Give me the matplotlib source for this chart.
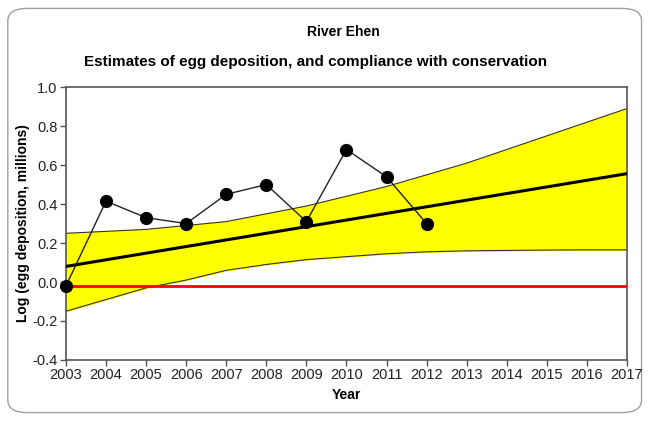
import matplotlib
matplotlib.use('Agg')
import matplotlib.pyplot as plt
from matplotlib.patches import FancyBboxPatch

years = [2003, 2004, 2005, 2006, 2007, 2008, 2009, 2010, 2011, 2012]
egg_dep = [-0.02, 0.415, 0.33, 0.30, 0.45, 0.50, 0.31, 0.68, 0.54, 0.30]

proj_years = list(range(2003, 2018))
trend = [0.08, 0.114, 0.148, 0.182, 0.216, 0.25, 0.284, 0.318, 0.352, 0.386,
         0.42, 0.454, 0.488, 0.522, 0.556]
upper = [0.25, 0.26, 0.27, 0.29, 0.31, 0.35, 0.39, 0.44, 0.49, 0.55,
         0.61, 0.68, 0.75, 0.82, 0.89]
lower = [-0.15, -0.09, -0.03, 0.01, 0.06, 0.09, 0.115, 0.13, 0.145, 0.155,
         0.16, 0.162, 0.164, 0.165, 0.165]
conservation_limit = -0.02

plt.rcParams['font.family'] = ['Liberation Sans', 'DejaVu Sans']

fig = plt.figure(figsize=(6.5, 4.21), dpi=100)
# rounded frame round the whole chart
frame = FancyBboxPatch((0.012, 0.02), 0.975, 0.96, boxstyle='round,pad=0,rounding_size=0.03',
                       transform=fig.transFigure, facecolor='white', edgecolor='#a0a0a0',
                       linewidth=1.0, zorder=-1)
fig.patches.append(frame)

ax = fig.add_axes([0.1015, 0.145, 0.863, 0.648])

ax.fill_between(proj_years, lower, upper, color='#ffff00', zorder=1)
ax.plot(proj_years, upper, color='#333333', lw=0.8, zorder=2)
ax.plot(proj_years, lower, color='#333333', lw=0.8, zorder=2)
ax.plot(proj_years, trend, color='black', lw=2.2, zorder=3)
ax.axhline(conservation_limit, color='#ff0000', lw=2, zorder=3)
ax.plot(years, egg_dep, color='#222222', lw=1, marker='o', ms=8.5,
        markerfacecolor='black', markeredgecolor='black', zorder=4, clip_on=False)

ax.set_xlim(2003, 2017)
ax.set_ylim(-0.4, 1.0)
ax.set_xticks(proj_years)
ax.set_yticks([-0.4, -0.2, 0.0, 0.2, 0.4, 0.6, 0.8, 1.0])
ax.set_yticklabels(['-0.4', '-0.2', '0.0', '0.2', '0.4', '0.6', '0.8', '1.0'])
ax.tick_params(direction='out', length=4, width=1, color='#555555',
               labelsize=10.5, labelcolor='#222222', pad=2)
for s in ax.spines.values():
    s.set_color('#555555')
    s.set_linewidth(1.2)

ax.set_xlabel('Year', fontsize=10, fontweight='bold', labelpad=4)
ax.set_ylabel('Log (egg deposition, millions)', fontsize=10, fontweight='bold', labelpad=2)

fig.text(0.528, 0.924, 'River Ehen', ha='center', va='center', fontsize=10, fontweight='bold')
fig.text(0.485, 0.852, 'Estimates of egg deposition, and compliance with conservation',
         ha='center', va='center', fontsize=11, fontweight='bold')

fig.savefig('out.png', dpi=100)
